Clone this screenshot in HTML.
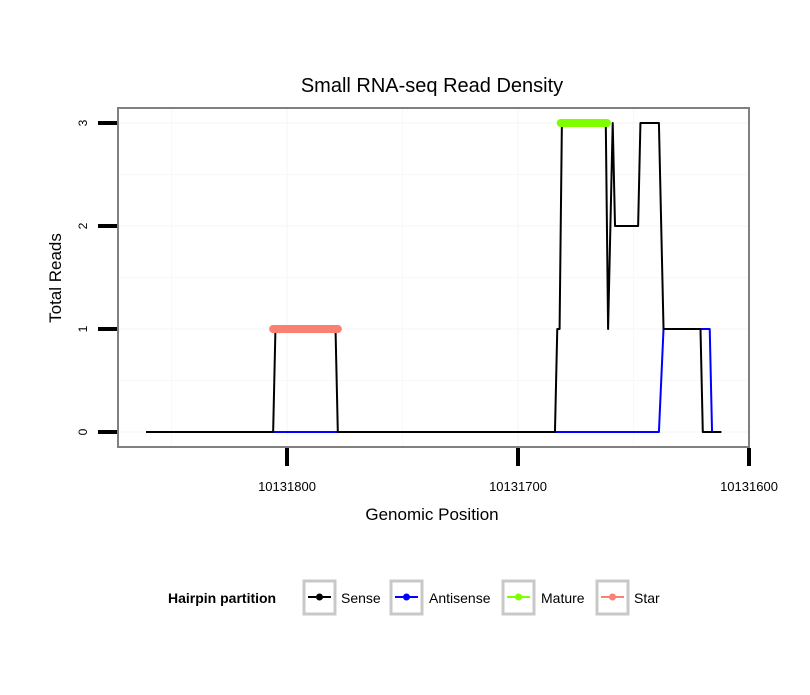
<!DOCTYPE html>
<html><head><meta charset="utf-8"><style>
body{margin:0;background:#fff;}
svg text{font-family:"Liberation Sans",sans-serif;}
</style></head><body>
<svg id="chart" width="810" height="690" xmlns="http://www.w3.org/2000/svg">
<rect width="810" height="690" fill="#fff"/>
<text x="432" y="92" font-size="20" text-anchor="middle">Small RNA-seq Read Density</text>
<g id="grid"></g>
<g id="series"></g>
<rect x="118" y="108" width="631" height="339" fill="none" stroke="#808080" stroke-width="2"/>
<g id="axes"></g>
<text x="432" y="520" font-size="17" text-anchor="middle">Genomic Position</text>
<text transform="translate(61,278) rotate(-90)" font-size="17" text-anchor="middle">Total Reads</text>
<g>
<text x="168" y="603" font-size="14" font-weight="bold">Hairpin partition</text>
<g><rect x="304" y="581" width="31" height="33" fill="#fff" stroke="#c8c8c8" stroke-width="3"/><line x1="308" y1="597" x2="331" y2="597" stroke="#000" stroke-width="2"/><circle cx="319.5" cy="597" r="3.5" fill="#000"/><text x="341" y="603" font-size="14">Sense</text></g>
<g><rect x="391" y="581" width="31" height="33" fill="#fff" stroke="#c8c8c8" stroke-width="3"/><line x1="395" y1="597" x2="418" y2="597" stroke="#00f" stroke-width="2"/><circle cx="406.5" cy="597" r="3.5" fill="#00f"/><text x="429" y="603" font-size="14">Antisense</text></g>
<g><rect x="503" y="581" width="31" height="33" fill="#fff" stroke="#c8c8c8" stroke-width="3"/><line x1="507" y1="597" x2="530" y2="597" stroke="#7fff00" stroke-width="2"/><circle cx="518.5" cy="597" r="3.5" fill="#7fff00"/><text x="541" y="603" font-size="14">Mature</text></g>
<g><rect x="597" y="581" width="31" height="33" fill="#fff" stroke="#c8c8c8" stroke-width="3"/><line x1="601" y1="597" x2="624" y2="597" stroke="#fa8072" stroke-width="2"/><circle cx="612.5" cy="597" r="3.5" fill="#fa8072"/><text x="634" y="603" font-size="14">Star</text></g>
</g>
</svg>
<script>
const senseX=[10131861,10131806,10131805,10131779,10131778,10131684,10131683,10131682,10131681,10131662,10131661,10131659,10131658,10131648,10131647,10131639,10131637,10131621,10131620,10131612];
const senseY=[0,0,1,1,0,0,1,1,3,3,1,3,2,2,3,3,1,1,0,0];
const antiX=[10131861,10131639,10131637,10131617,10131616,10131612];
const antiY=[0,0,1,1,0,0];
const matureX=[10131681.5,10131661.5];
const matureY=[3,3];
const starX=[10131806,10131778];
const starY=[1,1];
const xTicks=[10131800,10131700,10131600];
const yTicks=[0,1,2,3];
const NS="http://www.w3.org/2000/svg";
function sx(p){return 287+(10131800-p)*2.31;}
function sy(v){return 432-v*103;}
function mk(tag,attrs,parent){const e=document.createElementNS(NS,tag);for(const k in attrs)e.setAttribute(k,attrs[k]);parent.appendChild(e);return e;}
const grid=document.getElementById('grid'),ser=document.getElementById('series'),axes=document.getElementById('axes');
[-0.5,0.5,1.5,2.5,0,1,2,3].forEach(v=>{const y=sy(v);if(y>108&&y<447){const l=mk('line',{x1:119,x2:748,y1:y,y2:y,stroke:'#f8f8f8','stroke-width':Number.isInteger(v)?1.5:1},grid);

}});
[10131850,10131750,10131650,10131800,10131700].forEach(p=>{const x=sx(p);const l=mk('line',{x1:x,x2:x,y1:109,y2:446,stroke:'#f8f8f8','stroke-width':Number.isInteger(p/100)?1.5:1},grid);

});
function line(xs,ys,color,w,name,cap){const pts=xs.map((p,i)=>sx(p)+','+sy(ys[i])).join(' ');const e=mk('polyline',{points:pts,fill:'none',stroke:color,'stroke-width':w,'stroke-linejoin':'round','stroke-linecap':cap||'butt'},ser);

}
line(antiX,antiY,'#00f',2,'antisense-line');
line(senseX,senseY,'#000',2,'sense-line');
line(matureX,matureY,'#7fff00',8,'mature-line','round');
line(starX,starY,'#fa8072',8,'star-line','round');
yTicks.forEach(v=>{const y=sy(v);const t=mk('line',{x1:98,x2:117,y1:y,y2:y,stroke:'#000','stroke-width':4},axes);


const l=mk('text',{transform:`translate(87,${y}) rotate(-90)`,'font-size':12,'text-anchor':'middle'},axes);l.textContent=v;

});
xTicks.forEach(p=>{const x=sx(p);const t=mk('line',{x1:x,x2:x,y1:448,y2:466,stroke:'#000','stroke-width':4},axes);


const l=mk('text',{x:x,y:491,'font-size':13,'text-anchor':'middle'},axes);l.textContent=p;

});
</script>
</body></html>
